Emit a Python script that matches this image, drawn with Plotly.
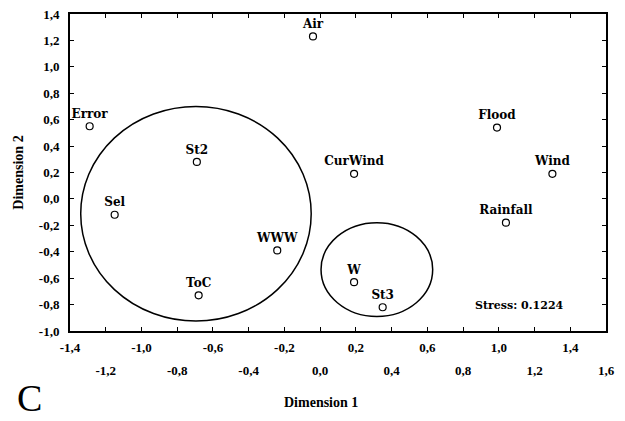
import plotly.graph_objects as go

# Data
labels = ["Air", "Error", "St2", "CurWind", "Flood", "Wind", "Sel", "WWW", "ToC", "Rainfall", "W", "St3"]
dim1 = [-0.04, -1.29, -0.69, 0.19, 0.99, 1.30, -1.15, -0.24, -0.68, 1.04, 0.19, 0.35]
dim2 = [1.23, 0.55, 0.28, 0.19, 0.54, 0.19, -0.12, -0.39, -0.73, -0.18, -0.63, -0.82]

x_ticks = [-1.4, -1.2, -1.0, -0.8, -0.6, -0.4, -0.2, 0.0, 0.2, 0.4, 0.6, 0.8, 1.0, 1.2, 1.4, 1.6]
y_ticks = [1.4, 1.2, 1.0, 0.8, 0.6, 0.4, 0.2, 0.0, -0.2, -0.4, -0.6, -0.8, -1.0]

# cluster ellipses (x0, y0, x1, y1) in data units
big_cluster = (-1.34, -0.925, -0.05, 0.70)
small_cluster = (0.005, -0.89, 0.63, -0.18)

stress_text = "Stress: 0.1224"

def fmt(v):
    return f"{v:.1f}".replace(".", ",").replace("-0,0", "0,0")

x_row1 = x_ticks[0::2]
x_row2 = x_ticks[1::2]
y_ticktext = [fmt(v) for v in y_ticks]

serif = "Liberation Serif"
wide_serif = "DejaVu Serif"

fig = go.Figure()
fig.add_trace(go.Scatter(
    x=dim1, y=dim2, mode="markers+text", text=labels,
    textposition="top center",
    textfont=dict(family=wide_serif, size=12, color="black", weight="bold"),
    marker=dict(symbol="circle-open", size=7, color="black", line=dict(width=1.2, color="black")),
    showlegend=False, cliponaxis=False,
))
# invisible companion trace so the second (staggered) tick-label row is drawn
fig.add_trace(go.Scatter(
    x=dim1, y=dim2, xaxis="x2", mode="markers", marker=dict(opacity=0),
    hoverinfo="skip", showlegend=False,
))

for (x0, y0, x1, y1) in (big_cluster, small_cluster):
    fig.add_shape(type="circle", xref="x", yref="y", x0=x0, y0=y0, x1=x1, y1=y1,
                  line=dict(color="black", width=1.5))

fig.add_annotation(x=0.925, y=0.08, xref="paper", yref="paper", text=stress_text,
                   showarrow=False, xanchor="right", yanchor="middle",
                   font=dict(family=wide_serif, size=11, color="black", weight="bold"))

fig.add_annotation(x=0.468, y=-0.225, xref="paper", yref="paper", text="Dimension 1",
                   showarrow=False, xanchor="center", yanchor="middle",
                   font=dict(family=serif, size=14, color="black", weight="bold"))

fig.add_annotation(x=-0.075, y=-0.212, xref="paper", yref="paper", text="C",
                   showarrow=False, xanchor="center", yanchor="middle",
                   font=dict(family=serif, size=38, color="black"))

tickfont = dict(family=serif, size=13, color="black", weight="bold")

# the page body adds an 8px offset; the figure is sized so nothing overflows
fig.update_layout(
    width=617, height=413,
    margin=dict(l=62, r=19, t=6, b=90, autoexpand=False),
    paper_bgcolor="white", plot_bgcolor="white",
    xaxis=dict(range=[-1.4, 1.6], tickmode="array", tickvals=x_ticks,
               ticktext=[fmt(v) if v in x_row1 else "" for v in x_ticks],
               showline=True, linecolor="black", linewidth=2, mirror="ticks",
               ticks="inside", ticklen=4, tickcolor="black", showgrid=False, zeroline=False,
               ticklabelstandoff=3, ticklabeloverflow="allow", automargin=False, tickfont=tickfont),
    xaxis2=dict(range=[-1.4, 1.6], overlaying="x", anchor="y", side="bottom",
                tickmode="array", tickvals=x_row2, ticktext=[fmt(v) for v in x_row2],
                ticks="", showline=False, showgrid=False, zeroline=False,
                ticklabelstandoff=30, ticklabeloverflow="allow", automargin=False, tickfont=tickfont),
    yaxis=dict(range=[-1.0, 1.4], tickmode="array", tickvals=y_ticks, ticktext=y_ticktext,
               showline=True, linecolor="black", linewidth=2, mirror="ticks",
               ticks="inside", ticklen=4, tickcolor="black", showgrid=False, zeroline=False,
               ticklabelstandoff=6, ticklabeloverflow="allow", automargin=False, tickfont=tickfont,
               title=dict(text="Dimension 2", font=dict(family=serif, size=14, color="black", weight="bold"),
                          standoff=12)),
)

fig.write_html("out.html")
